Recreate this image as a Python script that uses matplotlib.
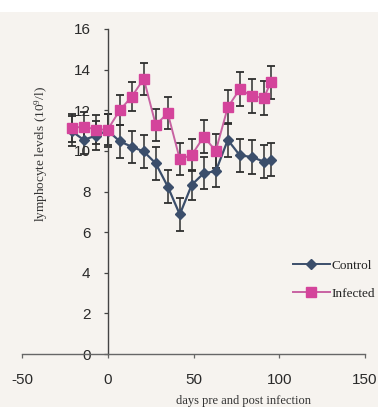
import matplotlib
matplotlib.use("Agg")
import matplotlib.pyplot as plt
from matplotlib.lines import Line2D
from matplotlib.patches import Rectangle

days = [-21, -14, -7, 0, 7, 14, 21, 28, 35, 42, 49, 56, 63, 70, 77, 84, 91, 95]
control = [10.97, 10.54, 10.75, 11.0, 10.47, 10.2, 9.97, 9.38, 8.24, 6.87,
           8.33, 8.9, 9.0, 10.54, 9.78, 9.7, 9.47, 9.57]
control_err = [0.75, 0.7, 0.7, 0.8, 0.8, 0.8, 0.8, 0.8, 0.8, 0.82,
               0.75, 0.78, 0.78, 0.82, 0.82, 0.82, 0.82, 0.8]
infected = [11.12, 11.2, 11.05, 11.05, 12.0, 12.67, 13.55, 11.28, 11.86, 9.59,
            9.8, 10.7, 10.0, 12.15, 13.04, 12.7, 12.6, 13.37]
infected_err = [0.7, 0.7, 0.7, 0.75, 0.74, 0.7, 0.8, 0.8, 0.8, 0.78,
                0.78, 0.8, 0.82, 0.84, 0.82, 0.82, 0.82, 0.82]
x_ticks = [-50, 0, 50, 100, 150]
y_ticks = [0, 2, 4, 6, 8, 10, 12, 14, 16]
series_names = ["Control", "Infected"]

plt.rcParams['mathtext.fontset'] = 'custom'
plt.rcParams['mathtext.rm'] = 'Liberation Serif'
plt.rcParams['mathtext.it'] = 'Liberation Serif:italic'

W, H = 378, 407
fig = plt.figure(figsize=(W / 100, H / 100), dpi=100, facecolor='#f6f3ef')
fig.patches.append(Rectangle((0, (H - 12) / H), 1, 12 / H, transform=fig.transFigure,
                             facecolor='white', edgecolor='none', zorder=-10))

ax = fig.add_axes([22 / W, (H - 354) / H, 343 / W, 325 / H])
ax.set_facecolor('none')

c_ctrl = '#3b4e6b'
c_inf_m = '#d4449b'
c_inf_l = '#c862a2'
c_err = '#2e2e2e'

ax.errorbar(days, control, yerr=control_err, fmt='none', ecolor=c_err,
            elinewidth=1.1, capsize=3, capthick=1.3, zorder=2)
ax.errorbar(days, infected, yerr=infected_err, fmt='none', ecolor=c_err,
            elinewidth=1.1, capsize=3, capthick=1.3, zorder=2)
ax.plot(days, control, color=c_ctrl, lw=1.6, marker='D', ms=5.2,
        mfc=c_ctrl, mec=c_ctrl, zorder=3)
ax.plot(days, infected, color=c_inf_l, lw=1.4, marker='s', ms=7,
        mfc=c_inf_m, mec=c_inf_m, zorder=4)

ax.set_xlim(-50, 150)
ax.set_ylim(0, 16)
ax.spines['left'].set_position(('data', 0))
ax.spines['bottom'].set_position(('data', 0))
ax.spines['right'].set_visible(False)
ax.spines['top'].set_visible(False)
ax.spines['left'].set_color('#444444')
ax.spines['bottom'].set_color('#666666')
ax.spines['left'].set_linewidth(1.0)
ax.spines['bottom'].set_linewidth(1.0)

ax.set_xticks(x_ticks)
ax.set_yticks(y_ticks)
ax.set_xticklabels([str(v) for v in x_ticks], family='Liberation Sans', fontsize=11, color='#2a2a2a')
ax.set_yticklabels([str(v) for v in y_ticks], family='Liberation Sans', fontsize=11, color='#2a2a2a')
ax.tick_params(axis='x', direction='out', length=3, width=0.9, color='#666666', pad=10.4)
ax.tick_params(axis='y', direction='out', length=3, width=0.9, color='#444444', pad=9.4)

fig.text(41 / W, 1 - 154 / H, 'lymphocyte levels (10$^{9}$/l)', rotation=90,
         ha='center', va='center', family='Liberation Serif', fontsize=9.5, color='#333333')
fig.text(243 / W, 1 - 401 / H, 'days pre and post infection', ha='center', va='center',
         family='Liberation Serif', fontsize=9, color='#333333')

handles = [Line2D([], [], color=c_ctrl, lw=1.4, marker='D', ms=5, mfc=c_ctrl, mec=c_ctrl),
           Line2D([], [], color=c_inf_l, lw=1.4, marker='s', ms=6.5, mfc=c_inf_m, mec=c_inf_m)]
leg = ax.legend(handles, series_names, loc='center left',
                bbox_to_anchor=(293 / W, 1 - 279.5 / H), bbox_transform=fig.transFigure,
                frameon=False, borderpad=0, borderaxespad=0, handlelength=2.8,
                handletextpad=0.15, labelspacing=1.2,
                prop={'family': 'Liberation Serif', 'size': 9.5})
for t in leg.get_texts():
    t.set_color('#222222')

fig.savefig('out.png', dpi=100, facecolor=fig.get_facecolor())
